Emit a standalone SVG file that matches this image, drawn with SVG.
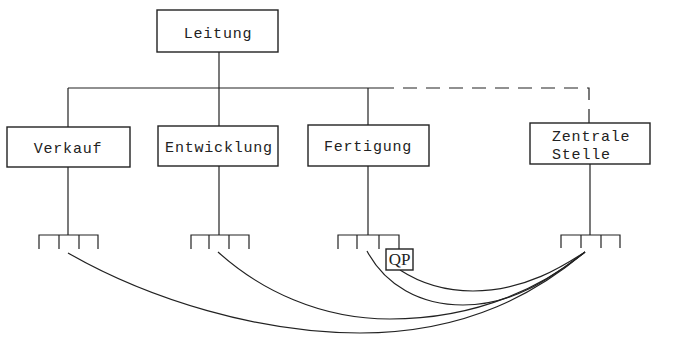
<svg xmlns="http://www.w3.org/2000/svg" width="675" height="342" viewBox="0 0 675 342">
<style>
.box{fill:#fff;stroke:#222;stroke-width:1.4}
.ln{fill:none;stroke:#222;stroke-width:1.2}
.t{font-family:"Liberation Mono",monospace;font-size:15px;letter-spacing:0.8px;fill:#222}
.q{font-family:"Liberation Serif",serif;font-size:17px;fill:#222}
</style>
<rect width="675" height="342" fill="#fff"/>
<g id="connectors" class="ln">
<path d="M219 52V88M68 88H380M68 88V127M219 88V126M368 88V125"/>
<path d="M380 88H589V123" stroke-dasharray="14 9"/>
<path d="M68 167V235M39 249V235H98V249M59 235V249M79 235V249"/>
<path d="M219 166V235M191 249V235H249V249M209 235V249M229 235V249"/>
<path d="M368 166V235M338 249V235H399V249M357 235V249M379 235V249"/>
<path d="M590 164V235M561 248V235H620V248M581 235V248M601 235V248"/>
<path d="M68 253C150 300 260 333 360 333C470 333 540 290 585 252"/>
<path d="M218 252C260 290 320 319 390 319C480 319 545 285 585 252"/>
<path d="M367 251C385 285 420 305 463 305C520 305 560 270 585 252"/>
<path d="M400 270C420 283 445 291 473 291C525 291 565 265 585 252"/>
</g>
<g id="leitung"><rect class="box" x="157" y="10" width="121" height="42"/><text class="t" x="218" y="38" text-anchor="middle">Leitung</text></g>
<g id="verkauf"><rect class="box" x="7" y="127" width="123" height="40"/><text class="t" x="68" y="153" text-anchor="middle">Verkauf</text></g>
<g id="entwicklung"><rect class="box" x="158" y="126" width="120" height="40"/><text class="t" x="219" y="152" text-anchor="middle">Entwicklung</text></g>
<g id="fertigung"><rect class="box" x="308" y="125" width="121" height="41"/><text class="t" x="368" y="151" text-anchor="middle">Fertigung</text></g>
<g id="zentrale"><rect class="box" x="530" y="123" width="120" height="41"/><text class="t" x="552" y="141">Zentrale</text><text class="t" x="552" y="159">Stelle</text></g>
<g id="qp"><rect class="box" x="386" y="249" width="27" height="21"/><text class="q" x="399.5" y="265" text-anchor="middle">QP</text></g>
</svg>
